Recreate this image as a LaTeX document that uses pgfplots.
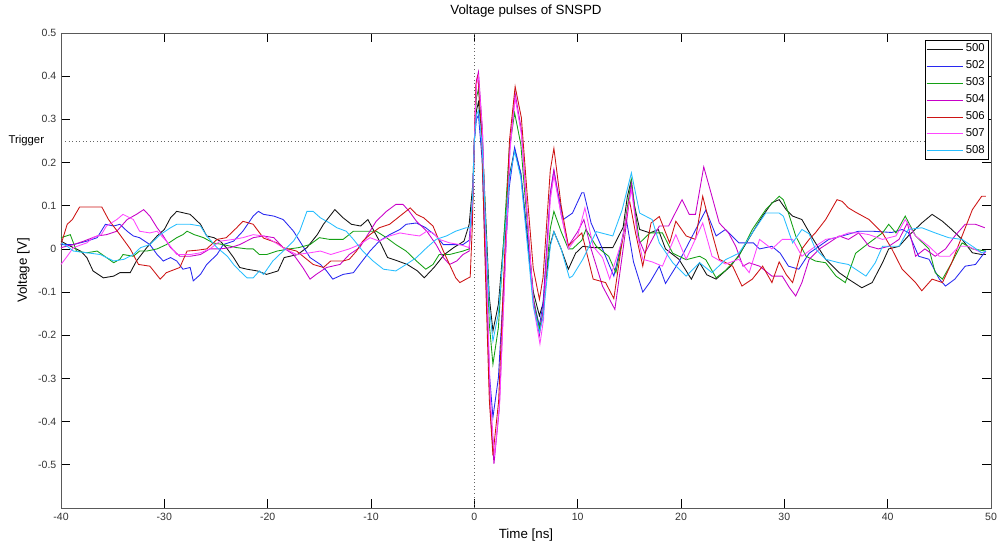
\documentclass[border=0pt]{standalone}
\usepackage{fontspec}
\setmainfont{Liberation Sans}
\usepackage{pgfplots}
\pgfplotsset{compat=1.18}
\definecolor{c500}{RGB}{20,20,20}
\definecolor{c502}{RGB}{40,40,240}
\definecolor{c503}{RGB}{20,160,20}
\definecolor{c504}{RGB}{200,0,200}
\definecolor{c506}{RGB}{205,20,20}
\definecolor{c507}{RGB}{255,70,255}
\definecolor{c508}{RGB}{40,190,255}
\begin{document}
\begin{tikzpicture}
\path[use as bounding box] (-45.75pt,-26.25pt) rectangle (702.75pt,381pt);
\begin{axis}[
  scale only axis, width=697.5pt, height=356.25pt,
  xmin=-40, xmax=50, ymin=-0.6, ymax=0.5,
  xtick={-40,-30,...,50},
  ytick={-0.5,-0.4,-0.3,-0.2,-0.1,0,0.1,0.2,0.3,0.4,0.5},
  yticklabel style={/pgf/number format/fixed,/pgf/number format/precision=1},
  /pgf/number format/assume math mode=true,
  tick label style={font=\fontsize{7.9}{9}\selectfont, text=black!80},
  tick align=inside, major tick length=6.5pt,
  tick style={black, line width=0.5pt},
  axis line style={black!65, line width=0.6pt},
  clip=false,
  title={Voltage pulses of SNSPD},
  title style={font=\fontsize{10}{12}\selectfont, at={(axis description cs:0.5,1.0216)}, anchor=base, inner sep=0pt},
  xlabel={Time [ns]},
  xlabel style={font=\fontsize{10}{12}\selectfont, at={(axis description cs:0.5,-0.0632)}, anchor=base, inner sep=0pt},
  ylabel={Voltage [V]},
  ylabel style={font=\fontsize{10}{12}\selectfont, at={(axis description cs:-0.0366,0.5)}, anchor=base, rotate=0, inner sep=0pt},
  legend style={at={(1,1)}, anchor=north east, xshift=-1.5pt, yshift=-5.25pt,
    font=\fontsize{8.5}{10}\selectfont, draw=black, line width=0.5pt,
    inner xsep=1pt, inner ysep=0.8pt, row sep=1.3pt, cells={anchor=west}},
  legend image code/.code={\draw[#1] (0pt,0pt) -- (27pt,0pt);},
  every axis plot/.append style={line width=0.65pt},
]
\addplot[black!60, dotted, line width=0.6pt, forget plot] coordinates {(-39.6,0.25) (50,0.25)};
\addplot[black!60, dotted, line width=0.6pt, forget plot] coordinates {(0,-0.6) (0,0.5)};
\node[anchor=east, font=\fontsize{8.5}{10}\selectfont, inner sep=0pt] at (axis cs:-40,0.25) [xshift=-12.5pt] {Trigger};

\addplot[c500] coordinates {(-40,0.018) (-39.4,0.01) (-38.1,-0.005) (-37.5,-0.02) (-36.9,-0.051) (-35.9,-0.067) (-34.9,-0.063) (-34.3,-0.055) (-33.3,-0.055) (-32.7,-0.028) (-31.7,0.003) (-30.7,0.03) (-30,0.045) (-29.4,0.072) (-28.8,0.087) (-27.5,0.08) (-26.5,0.057) (-25.9,0.03) (-25.2,0.026) (-24.6,0.018) (-24,0.003) (-23.3,-0.02) (-22.7,-0.043) (-22,-0.047) (-21,-0.051) (-20.1,-0.059) (-19,-0.051) (-18.4,-0.02) (-17.1,-0.013) (-16.2,0.003) (-15.2,0.033) (-14.6,0.057) (-13.5,0.091) (-12.7,0.072) (-11.9,0.057) (-11,0.053) (-10.3,0.068) (-9.7,0.041) (-9,0.01) (-8.4,-0.02) (-7.4,-0.028) (-6.5,-0.036) (-5.5,-0.051) (-4.85,-0.067) (-3.9,-0.043) (-2.9,-0.013) (-2,0.003) (-1,0.018) (-0.5,0.057) (-0.15,0.15) (0,0.25) (0.2,0.32) (0.4,0.34) (0.75,0.262) (1.1,0.075) (1.45,-0.112) (1.8,-0.19) (2.33,-0.128) (2.85,0.02) (3.38,0.168) (3.9,0.23) (4.5,0.174) (5.1,0.0375) (5.7,-0.099) (6.3,-0.155) (6.65,-0.126) (7,-0.058) (7.35,0.011) (7.7,0.04) (8.4,0) (9.1,-0.047) (9.8,-0.01) (10.5,0.006) (11.5,0.003) (12.5,0.003) (13.4,0.003) (14.4,0.05) (14.8,0.12) (15.16,0.157) (15.5,0.1) (16,0.045) (17,0.037) (17.8,0.045) (18.5,0) (19.8,-0.024) (21,-0.07) (21.8,-0.032) (22.5,-0.06) (23.4,-0.07) (24.8,-0.04) (25.6,-0.015) (26.9,0.037) (27.9,0.076) (28.8,0.107) (29.5,0.114) (30.2,0.09) (30.8,0.076) (31.7,0.068) (32.7,0.026) (34,-0.024) (35.3,-0.055) (36.2,-0.07) (37.5,-0.09) (38.5,-0.078) (39.5,-0.032) (40.1,0) (41.1,0.006) (42,0.03) (43.3,0.06) (44.3,0.08) (45.3,0.064) (46.2,0.045) (47.2,0.022) (48.2,-0.009) (49.1,-0.013) (49.5,-0.013)};
\addlegendentry{500}

\addplot[c502] coordinates {(-40,0.01) (-38.8,0.01) (-37.5,0.018) (-36.5,0.026) (-35.7,0.057) (-34.9,0.053) (-34.3,0.057) (-33.6,0.041) (-33,0.03) (-32.4,0.026) (-31.4,0.01) (-30.7,-0.013) (-30.1,-0.028) (-29.4,-0.02) (-28.8,-0.028) (-28.2,-0.047) (-27.5,-0.043) (-27.2,-0.074) (-26.5,-0.059) (-25.9,-0.036) (-24.9,-0.013) (-24.3,0.01) (-23.3,0.018) (-22.4,0.041) (-21.4,0.076) (-20.9,0.087) (-20.4,0.08) (-19.4,0.076) (-18.5,0.068) (-17.5,0.041) (-16.9,0.018) (-15.9,-0.02) (-14.9,-0.036) (-14.3,-0.051) (-13.7,-0.07) (-12.7,-0.059) (-11.7,-0.055) (-11.1,-0.036) (-10.1,-0.005) (-9.2,0.018) (-8.2,0.033) (-7.2,0.045) (-6.6,0.057) (-5.6,0.06) (-4.7,0.049) (-3.7,0.03) (-3,0.01) (-2,0.01) (-1.1,0.01) (-0.5,0.02) (-0.15,0.12) (0,0.25) (0.2,0.3) (0.4,0.31) (0.75,0.207) (1.1,-0.04) (1.45,-0.287) (1.8,-0.39) (2.33,-0.298) (2.85,-0.078) (3.38,0.143) (3.9,0.235) (4.5,0.175) (5.1,0.029) (5.7,-0.117) (6.3,-0.178) (6.65,-0.126) (7,0.001) (7.35,0.128) (7.7,0.18) (8.6,0.068) (9.5,0.083) (10.4,0.13) (10.6,0.13) (11.3,0.06) (12.4,0) (13.5,-0.063) (14.1,0) (14.7,0.07) (15.4,-0.03) (16.3,-0.1) (17,-0.077) (17.9,-0.04) (18.5,-0.08) (19.8,-0.03) (21.1,0.03) (22.4,0.09) (23.4,0.03) (24.3,0.045) (25.6,0.014) (27,0.014) (27.6,0) (28.8,0.006) (29.6,-0.01) (30.4,-0.04) (31.4,-0.047) (32.4,-0.01) (33,0) (34.3,0.022) (35.6,0.03) (37.2,0.041) (38.5,0.041) (40.4,0.038) (41.4,0.045) (42,0.038) (43,-0.017) (44,-0.024) (45,-0.07) (45.6,-0.086) (46.5,-0.07) (47.5,-0.04) (48.5,-0.036) (49.1,-0.017) (49.5,-0.005)};
\addlegendentry{502}

\addplot[c503] coordinates {(-40,0.026) (-39.1,0.033) (-38.5,-0.005) (-37.5,-0.009) (-36.5,-0.005) (-35.6,-0.02) (-34.9,-0.032) (-34.3,-0.024) (-34,-0.013) (-33,-0.017) (-32.4,-0.005) (-31.7,-0.005) (-30.7,0) (-29.8,0.01) (-28.8,0.026) (-28.2,0.033) (-27.8,0.041) (-27.1,0.033) (-26.2,0.026) (-25.3,0.014) (-24.3,0.01) (-23,0.003) (-22,0) (-21.4,0) (-20.8,-0.013) (-20.1,-0.013) (-19.1,-0.005) (-17.9,0) (-17,0.003) (-15.9,0.01) (-15,0.026) (-14,0.022) (-12.7,0.022) (-11.7,0.041) (-10.8,0.041) (-9.5,0.041) (-8.5,0.026) (-7.6,0.01) (-6.6,-0.005) (-5.6,-0.028) (-4.7,-0.047) (-4,-0.036) (-3.4,-0.013) (-2.4,-0.013) (-1.1,-0.005) (-0.5,0) (-0.15,0.11) (0,0.25) (0.2,0.35) (0.4,0.37) (0.75,0.277) (1.1,0.052) (1.45,-0.174) (1.8,-0.267) (2.33,-0.182) (2.85,0.024) (3.38,0.23) (3.9,0.315) (4.5,0.242) (5.1,0.065) (5.7,-0.113) (6.3,-0.186) (6.65,-0.146) (7,-0.05) (7.35,0.047) (7.7,0.087) (8.4,0.04) (9.1,0) (9.5,0) (10.4,0.02) (10.8,0.045) (11.8,0.006) (13,-0.017) (13.7,-0.055) (14.4,0.03) (15.2,0.16) (15.6,0.08) (16,0.014) (17,0.037) (18.2,0.037) (19.2,-0.01) (20.5,-0.025) (21.8,-0.017) (22.4,-0.025) (23.4,-0.067) (24.3,-0.05) (25.6,-0.017) (26.9,0.045) (28.2,0.091) (29.5,0.122) (29.9,0.114) (30.4,0.083) (31.1,0.03) (32.1,-0.017) (33,-0.028) (34,-0.032) (35,-0.063) (35.9,-0.078) (36.9,-0.01) (38.2,0.014) (39.5,0.037) (40.1,0.057) (40.8,0.037) (41.7,0.076) (42.7,0.03) (44,0) (44.6,-0.055) (45.3,-0.07) (46.2,-0.032) (47.2,0.014) (48.2,0) (49.5,-0.005)};
\addlegendentry{503}

\addplot[c504] coordinates {(-40,0.003) (-38.8,0.01) (-37.8,0.018) (-36.5,0.03) (-35.6,0.033) (-34.6,0.041) (-33.6,0.068) (-32.7,0.08) (-32,0.091) (-31.4,0.076) (-30.7,0.049) (-30.1,0.03) (-29.4,0.003) (-28.5,-0.017) (-27.5,-0.017) (-26.5,-0.013) (-25.6,0) (-24.6,0) (-23.6,0.003) (-22.7,0.01) (-21.4,0.026) (-20.4,0.03) (-19.4,0.026) (-18.5,0.003) (-17.5,-0.013) (-16.6,-0.043) (-15.9,-0.07) (-15.3,-0.059) (-14.3,-0.043) (-13,-0.036) (-12.1,-0.013) (-11.1,0.003) (-10.1,0.041) (-9.5,0.064) (-8.5,0.087) (-7.6,0.103) (-6.9,0.103) (-6.3,0.087) (-5.6,0.064) (-4.6,0.041) (-3.7,0.01) (-3,-0.02) (-2.4,-0.036) (-1.7,-0.028) (-1.1,-0.013) (-0.5,-0.005) (-0.15,0.12) (0,0.25) (0.2,0.39) (0.4,0.41) (0.78,0.277) (1.15,-0.044) (1.52,-0.365) (1.9,-0.498) (2.41,-0.372) (2.92,-0.069) (3.44,0.234) (3.95,0.36) (4.54,0.278) (5.12,0.08) (5.71,-0.118) (6.3,-0.2) (6.65,-0.144) (7,-0.008) (7.35,0.128) (7.7,0.184) (8.4,0.08) (9.1,0.007) (10,0.04) (10.6,0.068) (11.3,0) (12.4,-0.086) (13.6,-0.14) (14.4,0) (15.2,0.15) (15.8,0.03) (16.5,-0.01) (17.9,0.053) (18.8,0.053) (20.1,0.114) (20.8,0.08) (21.4,0.08) (22.2,0.19) (22.9,0.13) (23.7,0.06) (24.6,0.037) (25.3,0.006) (26,-0.04) (26.6,-0.032) (27.6,-0.04) (28.8,-0.063) (29.8,-0.063) (30.5,-0.09) (31.1,-0.109) (31.7,-0.078) (32.4,-0.024) (33.4,0) (34.3,0.014) (35.3,0.03) (36.2,0.022) (37.2,0.037) (38.2,0.006) (39.1,0) (40.1,0.006) (41.1,0.022) (41.9,0.06) (42.7,-0.017) (43.6,0) (44.6,-0.017) (45.6,0) (46.5,0.03) (47.5,0.057) (48.5,0.057) (49.4,0.049)};
\addlegendentry{504}

\addplot[c506] coordinates {(-40,0.01) (-39.4,0.057) (-38.9,0.068) (-38.2,0.097) (-36.05,0.097) (-35.4,0.068) (-34.3,0.033) (-33.3,0) (-32.5,-0.036) (-31.4,-0.04) (-30.4,-0.07) (-29.8,-0.055) (-28.5,-0.043) (-27.8,-0.005) (-26.8,-0.003) (-25.9,0) (-24.9,0.022) (-24,0.026) (-23,0.049) (-22.4,0.064) (-21.4,0.057) (-20.4,0.025) (-19.1,0.014) (-18.5,0.003) (-17.2,-0.005) (-15.6,-0.036) (-14.6,-0.043) (-13.9,-0.028) (-12.7,-0.028) (-12.1,-0.024) (-11.4,-0.005) (-10.8,0.018) (-10.1,0.033) (-9.2,0.049) (-8.2,0.057) (-7.2,0.076) (-6.2,0.095) (-5.6,0.08) (-4.9,0.072) (-4,0.053) (-3,-0.005) (-2.4,-0.036) (-1.8,-0.067) (-1.4,-0.078) (-0.8,-0.07) (-0.4,-0.065) (-0.2,0.05) (0,0.25) (0.15,0.38) (0.35,0.4) (0.7,0.271) (1.05,-0.039) (1.45,-0.349) (1.8,-0.478) (2.35,-0.353) (2.87,-0.051) (3.4,0.251) (3.95,0.376) (4.55,0.304) (5.1,0.13) (5.7,-0.045) (6.3,-0.117) (6.65,-0.066) (7,0.058) (7.35,0.182) (7.7,0.233) (8.4,0.1) (9.1,0.007) (10.4,0.037) (11.5,-0.07) (12.7,-0.078) (13.5,-0.115) (14.2,0) (15,0.114) (15.6,0.037) (16.3,-0.04) (17.1,0.06) (17.9,0.075) (18.9,0.014) (19.5,0.064) (20.5,0.03) (21.4,0.022) (22.1,0.122) (23,0.037) (23.7,-0.024) (25,-0.04) (25.9,-0.086) (26.9,-0.07) (27.9,-0.04) (28.8,-0.078) (29.5,-0.03) (30.2,-0.06) (30.8,-0.078) (31.7,0) (32.4,0.022) (33,0.037) (34,0.068) (35.1,0.114) (35.6,0.11) (36.2,0.095) (36.9,0.085) (38.2,0.068) (39.5,0.037) (40.4,0) (41.4,-0.047) (42.7,-0.078) (43.3,-0.097) (44.3,-0.07) (45.3,-0.078) (46.2,-0.032) (47.2,0.03) (48.2,0.091) (49.1,0.122) (49.5,0.122)};
\addlegendentry{506}

\addplot[c507] coordinates {(-40,-0.036) (-39.4,-0.017) (-38.8,0.003) (-37.5,0.014) (-36.9,0.026) (-36.1,0.033) (-35.6,0.053) (-34.6,0.068) (-34,0.08) (-33,0.068) (-32.4,0.041) (-31.4,0.037) (-30.7,0.041) (-29.8,0.018) (-28.8,-0.013) (-27.5,-0.013) (-26.5,-0.009) (-25.6,0) (-24.6,0.018) (-23.3,0.022) (-22.4,0.026) (-21.4,0.033) (-20.4,0.03) (-19.5,0.018) (-18.5,0.003) (-17.2,-0.013) (-15.9,-0.009) (-14.9,-0.005) (-13.9,-0.013) (-12.1,0) (-11.1,0.01) (-10.1,0.026) (-9.2,0.018) (-8.2,0.03) (-7.2,0.037) (-6.2,0.033) (-5.3,0.03) (-4.6,0.041) (-4,0.037) (-3.4,0.022) (-2.4,0.014) (-1.4,0.01) (-0.5,0.003) (-0.15,0.12) (0,0.25) (0.2,0.38) (0.4,0.4) (0.79,0.271) (1.17,-0.04) (1.56,-0.351) (1.95,-0.48) (2.45,-0.358) (2.95,-0.065) (3.45,0.228) (3.95,0.35) (4.55,0.266) (5.15,0.065) (5.75,-0.137) (6.35,-0.22) (6.7,-0.163) (7,-0.025) (7.35,0.113) (7.7,0.17) (8.4,0.08) (9.1,0) (10,0.03) (10.7,0.095) (11.5,0.006) (12.4,-0.02) (13.1,-0.07) (14.3,0.02) (15.2,0.137) (15.8,0.03) (16.3,-0.024) (17.2,-0.03) (18.2,-0.04) (19.5,0.033) (20.5,-0.024) (22.1,0.06) (23,-0.017) (24.3,-0.035) (25.6,-0.024) (26.6,-0.055) (27.6,0.022) (28.8,0) (29.8,0.022) (30.8,0.022) (31.7,-0.017) (33,0.006) (34,0.022) (35,0.026) (36.2,0.037) (37.2,0.037) (38.2,0.033) (39.5,0.022) (40.8,0.03) (41.7,0.068) (42.7,0.03) (44,0.006) (45,-0.017) (46,-0.017) (46.9,0.006) (47.8,0.006) (49.1,-0.009) (49.5,-0.009)};
\addlegendentry{507}

\addplot[c508] coordinates {(-40,0.014) (-39.4,0.006) (-38.8,-0.005) (-37.5,-0.009) (-36.2,-0.013) (-34.9,-0.028) (-33.9,-0.024) (-33,-0.013) (-32.3,0.003) (-31.4,0.01) (-30.4,0.033) (-29.4,0.049) (-28.8,0.057) (-27.5,0.057) (-26.5,0.053) (-25.9,0.03) (-24.9,0.003) (-23.9,-0.017) (-23.3,-0.036) (-22.7,-0.051) (-22,-0.067) (-21.4,-0.067) (-20.8,-0.051) (-20.4,-0.059) (-19.5,-0.028) (-18.5,-0.005) (-17.5,0.018) (-16.9,0.041) (-16.2,0.087) (-15.6,0.087) (-14.9,0.072) (-14,0.06) (-13.3,0.049) (-12.4,0.041) (-11.7,0.022) (-10.8,-0.005) (-9.8,-0.028) (-8.8,-0.047) (-7.6,-0.051) (-6.6,-0.036) (-5.6,-0.02) (-4.6,0.003) (-3.7,0.022) (-2.7,0.03) (-1.8,0.041) (-0.8,0.049) (-0.4,0.049) (-0.15,0.13) (0,0.25) (0.2,0.31) (0.4,0.32) (0.75,0.242) (1.1,0.054) (1.45,-0.135) (1.8,-0.213) (2.33,-0.149) (2.85,0.007) (3.38,0.162) (3.9,0.226) (4.5,0.165) (5.1,0.017) (5.7,-0.132) (6.3,-0.193) (6.65,-0.159) (7,-0.077) (7.35,0.006) (7.7,0.04) (8.4,0) (9.2,-0.067) (9.5,-0.063) (10.5,-0.024) (11.8,0.04) (13.4,0.03) (14.3,0.09) (15.2,0.176) (16,0.083) (17.2,0.068) (17.9,0.014) (19.2,-0.032) (20.5,-0.063) (21.8,-0.032) (23,-0.055) (24.3,-0.025) (25.6,-0.01) (26.9,0.037) (28.2,0.083) (29.5,0.083) (29.9,0.076) (30.8,0.014) (31.7,0.045) (32.4,0.035) (33,0) (34,-0.024) (35.3,-0.032) (36.2,-0.036) (36.9,-0.047) (37.9,-0.063) (38.8,-0.032) (39.5,0.006) (41.1,0.006) (42,0.045) (43.3,0.049) (44.6,0.037) (45.9,0.026) (47.2,0.022) (48.2,0.006) (49.1,-0.009) (49.5,-0.005)};
\addlegendentry{508}
\end{axis}
\end{tikzpicture}
\end{document}
